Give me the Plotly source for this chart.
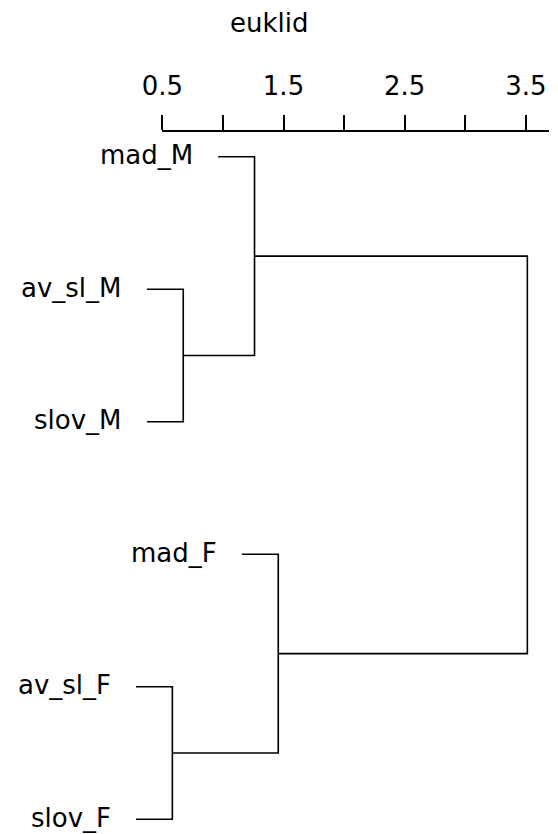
import plotly.graph_objects as go

# leaves, top to bottom
leaf_labels = ["mad_M", "av_sl_M", "slov_M", "mad_F", "av_sl_F", "slov_F"]

# merges (hclust style): negative = leaf number, positive = earlier merge
merge_a = [-5, -2, -1, -4, 3]
merge_b = [-6, -3, 2, 1, 4]
merge_h = [0.583, 0.673, 1.261, 1.457, 3.512]

hang = 0.3
axis_ticks = [0.5, 1.0, 1.5, 2.0, 2.5, 3.0, 3.5]
axis_labels = ["0.5", "", "1.5", "", "2.5", "", "3.5"]

FONT = "DejaVu Sans, Liberation Sans, Arial, sans-serif"
FSIZE = 26


def node_pos(ref, h_parent, node_y):
    """x/y of a child node"""
    if ref < 0:
        return h_parent - hang, ref * -1
    return merge_h[ref - 1], node_y[ref - 1]


# build the dendrogram segments
xs, ys = [], []
node_y = []
leaf_x = {}
for a, b, h in zip(merge_a, merge_b, merge_h):
    xa, ya = node_pos(a, h, node_y)
    xb, yb = node_pos(b, h, node_y)
    if a < 0:
        leaf_x[-a] = xa
    if b < 0:
        leaf_x[-b] = xb
    xs += [xa, h, h, xb, None]
    ys += [ya, ya, yb, yb, None]
    node_y.append((ya + yb) / 2)

fig = go.Figure()
fig.add_trace(go.Scatter(x=xs, y=ys, mode="lines",
                         line=dict(color="black", width=1.6),
                         hoverinfo="skip", showlegend=False))

# dummy trace so the top axis gets drawn
fig.add_trace(go.Scatter(x=[0.5], y=[-5], xaxis="x2", yaxis="y", mode="markers",
                         marker=dict(opacity=0), hoverinfo="skip", showlegend=False))

# leaf labels
for i, lab in enumerate(leaf_labels, start=1):
    fig.add_annotation(x=leaf_x[i], y=i, text=lab, showarrow=False,
                       xanchor="right", yanchor="middle", xshift=-23, yshift=1.5,
                       font=dict(size=FSIZE, color="black", family=FONT))

fig.add_annotation(x=269 / 558, y=1 - 23 / 834, xref="paper", yref="paper", text="euklid",
                   showarrow=False, xanchor="center", yanchor="middle",
                   font=dict(size=FSIZE, color="black", family=FONT))

fig.update_layout(
    width=558, height=834,
    margin=dict(l=0, r=0, t=0, b=0, autoexpand=False),
    plot_bgcolor="rgba(0,0,0,0)", paper_bgcolor="white",
    font=dict(family=FONT, size=FSIZE, color="black"),
    xaxis=dict(range=[-0.839, 3.765], visible=False, domain=[0, 1]),
    yaxis=dict(range=[6.111, -0.1825], visible=False),
    xaxis2=dict(domain=[162.3 / 558, 549.3 / 558], range=[0.5, 3.693],
                anchor="free", position=1 - 130.7 / 834, side="top",
                showline=True, linecolor="black", linewidth=1.5,
                ticks="outside", ticklen=15, tickwidth=1.5, tickcolor="black",
                tickvals=axis_ticks, ticktext=axis_labels, ticklabelstandoff=10,
                showgrid=False, zeroline=False, automargin=False,
                tickfont=dict(size=FSIZE, color="black", family=FONT)),
)

# page body has an 8px default margin, drop it so the figure sits at 0,0
fig.write_html("out.html", config={"displayModeBar": False},
               post_script="document.body.style.margin='0';")
